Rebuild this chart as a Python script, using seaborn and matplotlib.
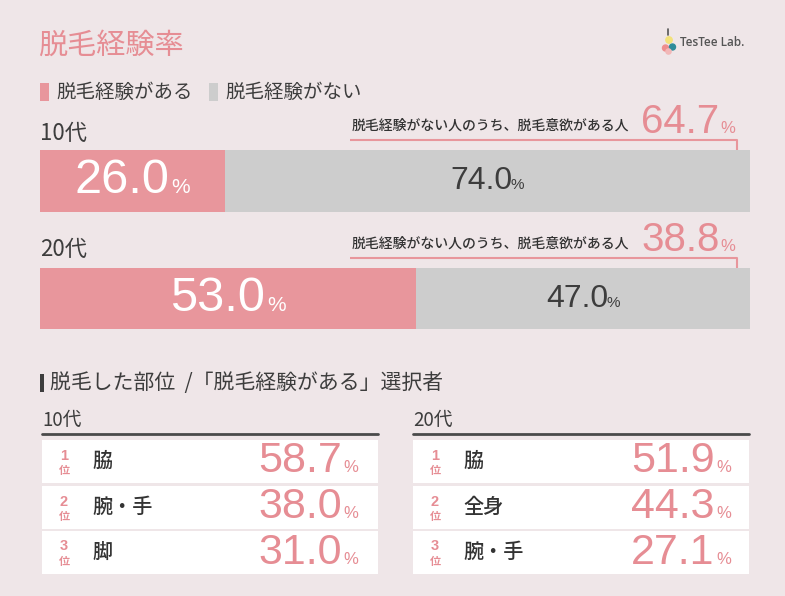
import matplotlib
matplotlib.use("Agg")
import matplotlib.pyplot as plt
import seaborn as sns
import pandas as pd
from matplotlib.patches import Rectangle, Circle
from matplotlib.offsetbox import TextArea, HPacker, AnnotationBbox

# ---------------- data ----------------
ages = ["10代", "20代"]
experienced = [26.0, 53.0]
not_experienced = [74.0, 47.0]
willing = [64.7, 38.8]

ranks = [1, 2, 3]
parts_10 = ["脇", "腕・手", "脚"]
parts_10_pct = [58.7, 38.0, 31.0]
parts_20 = ["脇", "全身", "腕・手"]
parts_20_pct = [51.9, 44.3, 27.1]

# ---------------- style ----------------
sns.set_theme(style="white")
CJK = ["Noto Sans CJK JP", "DejaVu Sans"]
NUM = ["Liberation Sans", "Noto Sans CJK JP", "DejaVu Sans"]
plt.rcParams["font.family"] = CJK

W, H = 785, 596
BG = "#EFE6E8"
PINK = "#E8969C"
PINKTXT = "#E68D94"
GRAY = "#CDCDCD"
DARK = "#3d3d3d"

fig = plt.figure(figsize=(W / 100, H / 100), dpi=100, facecolor=BG)
ax0 = fig.add_axes([0, 0, 1, 1])
ax0.set_xlim(0, W)
ax0.set_ylim(H, 0)
ax0.axis("off")


def px_axes(x0, y0, x1, y1):
    return fig.add_axes([x0 / W, 1 - y1 / H, (x1 - x0) / W, (y1 - y0) / H])


def pct_label(ax, xy, num, num_size, pct_size, color, align, sep=0, coords="data"):
    t1 = TextArea(num, textprops=dict(fontsize=num_size, color=color, family=NUM))
    t2 = TextArea("%", textprops=dict(fontsize=pct_size, color=color, family=NUM))
    box = HPacker(children=[t1, t2], align="baseline", pad=0, sep=sep)
    ab = AnnotationBbox(box, xy, xycoords=coords, frameon=False,
                        box_alignment=align, pad=0)
    ax.add_artist(ab)


# ---------------- header ----------------
ax0.text(38, 46, "脱毛経験率", fontsize=21, color=PINKTXT, va="center", ha="left")

# logo
ax0.plot([668, 668], [29, 35], color="#555555", lw=1.2)
ax0.add_patch(Circle((669, 40), 3.2, color="#F3E27A"))
ax0.add_patch(Circle((665.5, 48), 3.0, color="#EE8E8E"))
ax0.add_patch(Circle((672.5, 47), 3.0, color="#2E8C9A"))
ax0.add_patch(Circle((668.5, 51.5), 2.6, color="#F2B8B8"))
ax0.text(680, 43, "TesTee Lab.", fontsize=8.5, color="#555555", va="center",
         ha="left", family=["Open Sans", "DejaVu Sans"], fontweight="semibold")

# legend
ax0.add_patch(Rectangle((40, 83), 9, 18, color=PINK, lw=0))
ax0.text(56, 92, "脱毛経験がある", fontsize=14, color=DARK, va="center")
ax0.add_patch(Rectangle((209, 83), 9, 18, color=GRAY, lw=0))
ax0.text(225, 92, "脱毛経験がない", fontsize=14, color=DARK, va="center")

# ---------------- stacked bars ----------------
axb = px_axes(40, 150, 750, 329.5)
df = pd.DataFrame({"age": ages, "yes": experienced, "no": not_experienced})
df["total"] = df["yes"] + df["no"]
sns.barplot(data=df, y="age", x="total", orient="h", color=GRAY, saturation=1,
            width=0.523, errorbar=None, linewidth=0, ax=axb)
sns.barplot(data=df, y="age", x="yes", orient="h", color=PINK, saturation=1,
            width=0.523, errorbar=None, linewidth=0, ax=axb)
axb.set_xlim(0, 100)
axb.set_ylim(1.2617, -0.2617)
axb.axis("off")

for i, (yes, no) in enumerate(zip(experienced, not_experienced)):
    pct_label(axb, (yes / 2, i), f"{yes:.1f}", 35, 15, "white", (0.5, 0.5), sep=1.5)
    pct_label(axb, (yes + no / 2, i), f"{no:.1f}", 23, 11, DARK, (0.5, 0.5), sep=-1)

# age labels and willingness annotations
age_y = [133, 249]
bar_top = [150, 268]
for i, age in enumerate(ages):
    ax0.text(40, age_y[i], age, fontsize=16, color=DARK, va="center", ha="left")
    ty = bar_top[i] - 24
    ax0.text(352, ty, "脱毛経験がない人のうち、脱毛意欲がある人", fontsize=10,
             color="#333333", va="center", ha="left", fontweight="medium")
    pct_label(ax0, (641, ty - 4), f"{willing[i]:.1f}", 29, 12, PINKTXT, (0, 0.5), sep=1)
    ax0.plot([350, 737, 737], [bar_top[i] - 10, bar_top[i] - 10, bar_top[i]],
             color=PINK, lw=1.5, solid_capstyle="butt")

# ---------------- ranking section ----------------
ax0.add_patch(Rectangle((40, 374), 4, 18, color=DARK, lw=0))
ax0.text(50, 383, "脱毛した部位  /「脱毛経験がある」選択者", fontsize=15,
         color=DARK, va="center", ha="left")

row_tops = [440, 486, 531]
row_h = 43
tables = [
    (42, 378, ages[0], parts_10, parts_10_pct, 20),
    (413, 749, ages[1], parts_20, parts_20_pct, 18),
]
for x0, x1, age, parts, pcts, rpad in tables:
    ax0.text(x0, 420, age, fontsize=13.5, color=DARK, va="center", ha="left")
    ax0.plot([x0, x1], [434, 434], color="#4a4a4a", lw=2)
    for r, part, p, top in zip(ranks, parts, pcts, row_tops):
        cy = top + row_h / 2
        ax0.add_patch(Rectangle((x0, top), x1 - x0, row_h, color="white", lw=0))
        ax0.text(x0 + 22, cy - 6, str(r), fontsize=10.5, color=PINKTXT, ha="center",
                 va="center", family=NUM, fontweight="bold")
        ax0.text(x0 + 22, cy + 9, "位", fontsize=8, color=PINKTXT, ha="center",
                 va="center", fontweight="bold")
        ax0.text(x0 + 50, cy, part, fontsize=14.5, color="#333333", ha="left",
                 va="center", fontweight="medium")
        pct_label(ax0, (x1 - rpad, cy), f"{p:.1f}", 31, 12, PINKTXT, (1, 0.5), sep=1)

fig.savefig("out.png", dpi=100, facecolor=BG)
